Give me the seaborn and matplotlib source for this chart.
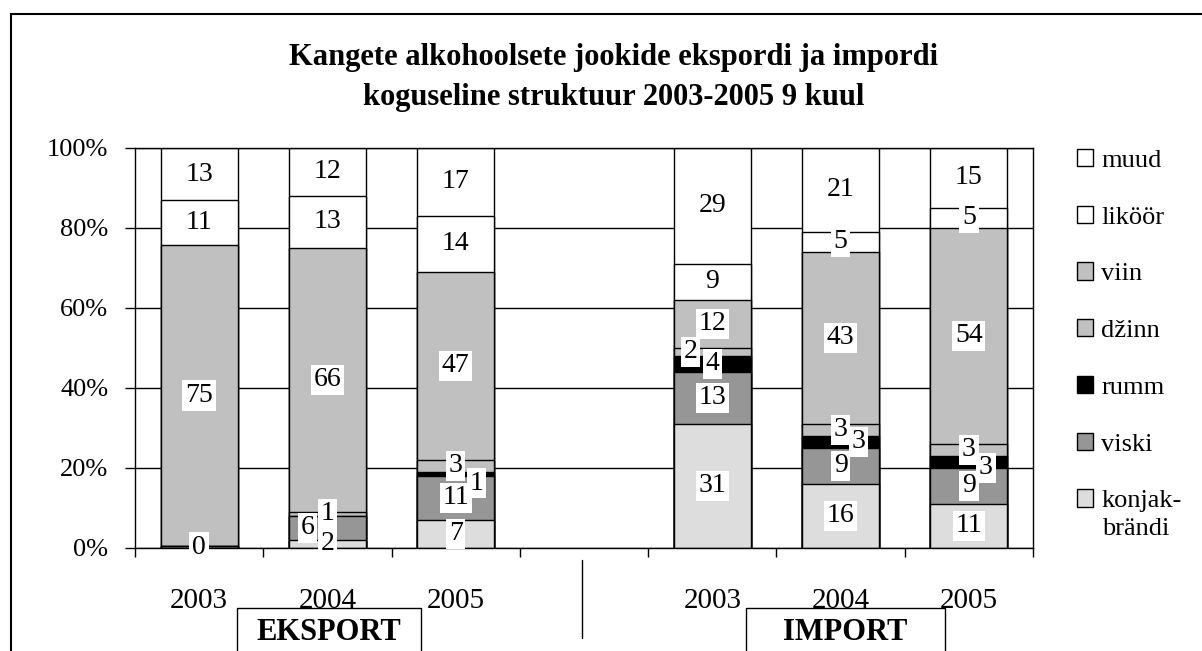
import numpy as np
import pandas as pd
import matplotlib.pyplot as plt
from matplotlib.patches import Patch, Rectangle
from matplotlib.lines import Line2D
import seaborn as sns

# Data (shares in %, bar segments listed from the bottom up)
title_lines = ["Kangete alkohoolsete jookide ekspordi ja impordi",
               "koguseline struktuur 2003-2005 9 kuul"]
years = ["2003", "2004", "2005"]
groups = ["EKSPORT", "IMPORT"]
layers = ["konjakbrändi", "viski", "rumm", "džinn", "viin", "liköör", "muud"]
legend_labels = ["konjak-", "viski", "rumm", "džinn", "viin", "liköör", "muud"]
legend_extra = "brändi"
colors = ["#DDDDDD", "#969696", "#000000", "#C0C0C0", "#C0C0C0", "#FFFFFF", "#FFFFFF"]

export_konjak = [0, 2, 7]
export_viski = [0.45, 6, 11]
export_rumm = [0, 0, 1]
export_dzinn = [0, 1, 3]
export_viin = [75, 66, 47]
export_likoor = [11, 13, 14]
export_muud = [13, 12, 17]

import_konjak = [31, 16, 11]
import_viski = [13, 9, 9]
import_rumm = [4, 3, 3]
import_dzinn = [2, 3, 3]
import_viin = [12, 43, 54]
import_likoor = [9, 5, 5]
import_muud = [29, 21, 15]

# Settings
W, H = 1202, 651
sns.set_theme(style="white")
plt.rcParams['font.family'] = ['Liberation Serif', 'DejaVu Serif']
plt.rcParams['text.color'] = 'black'


def build_frame():
    series = {
        "EKSPORT": [export_konjak, export_viski, export_rumm, export_dzinn,
                    export_viin, export_likoor, export_muud],
        "IMPORT": [import_konjak, import_viski, import_rumm, import_dzinn,
                   import_viin, import_likoor, import_muud],
    }
    rows = []
    for g in groups:
        vals = np.array(series[g], dtype=float)  # layers x years
        for j, y in enumerate(years):
            col = vals[:, j]
            pct = col / col.sum() * 100
            cum = np.cumsum(pct)
            for i, layer in enumerate(layers):
                rows.append({"bar": f"{g} {y}", "layer": layer, "value": col[i],
                             "pct": pct[i], "cum": cum[i]})
    return pd.DataFrame(rows)


def main():
    df = build_frame()
    order = [f"EKSPORT {y}" for y in years] + [" "] + [f"IMPORT {y}" for y in years]

    fig = plt.figure(figsize=(W / 100, H / 100), dpi=100)
    ax = fig.add_axes([135 / W, 1 - 548 / H, (1033 - 135) / W, 400 / H])

    # stacked bars: draw cumulative heights from the top layer down
    for i in reversed(range(len(layers))):
        sub = df[df["layer"] == layers[i]]
        sns.barplot(data=sub, x="bar", y="cum", order=order, color=colors[i],
                    saturation=1, width=0.6, edgecolor="black", linewidth=1.0,
                    errorbar=None, ax=ax, zorder=2)

    # data labels, a few of them nudged sideways as in the original
    nudges = {("EKSPORT 2004", "viski"): (-20, 0),
              ("EKSPORT 2005", "rumm"): (21, -9),
              ("IMPORT 2003", "džinn"): (-22, 0),
              ("IMPORT 2004", "rumm"): (18, 0),
              ("IMPORT 2005", "rumm"): (17, -6)}
    for _, r in df.iterrows():
        if r["value"] <= 0:
            continue
        dx, dy = nudges.get((r["bar"], r["layer"]), (0, 0))
        ax.annotate(f"{r['value']:.0f}", xy=(order.index(r["bar"]), r["cum"] - r["pct"] / 2),
                    xytext=(dx * 0.72, dy * 0.72), textcoords="offset points",
                    ha="center", va="center", fontsize=20, zorder=5,
                    bbox=dict(boxstyle="square,pad=0.1", facecolor="white", edgecolor="none"))

    # axes styling
    ax.set_ylim(0, 100)
    ax.set_xlim(-0.5, len(order) - 0.5)
    ax.set_yticks(range(0, 101, 20))
    ax.set_yticklabels([f"{v}%" for v in range(0, 101, 20)])
    ax.set_xticks(np.arange(-0.5, len(order), 1))
    ax.set_xticklabels([])
    year_pos = [k for k, b in enumerate(order) if b.strip()]
    ax.set_xticks(year_pos, minor=True)
    ax.set_xticklabels([order[k].split()[1] for k in year_pos], minor=True)
    ax.set_xlabel("")
    ax.set_ylabel("")
    ax.yaxis.grid(True, color="black", linewidth=1.0)
    ax.xaxis.grid(False)
    ax.set_axisbelow(True)
    for s in ax.spines.values():
        s.set_visible(True)
        s.set_color("black")
        s.set_linewidth(1.0)
    ax.tick_params(axis="y", which="major", left=True, length=7.2, width=1.0,
                   direction="out", pad=12, labelsize=19, colors="black")
    ax.tick_params(axis="x", which="major", bottom=True, length=6.5, width=1.0,
                   direction="out", colors="black")
    ax.tick_params(axis="x", which="minor", bottom=True, length=0, pad=29,
                   labelsize=21, labelcolor="black")

    # legend (top layer first)
    handles = [Patch(facecolor=colors[i], edgecolor="black", linewidth=1.0)
               for i in reversed(range(len(layers)))]
    labels = [legend_labels[i] for i in reversed(range(len(layers)))]
    ax.legend(handles, labels, loc="upper left", bbox_to_anchor=(1077 / W, 1 - 149 / H),
              bbox_transform=fig.transFigure, frameon=False, fontsize=19,
              handlelength=0.62, handleheight=0.62, handletextpad=0.3,
              labelspacing=1.285, borderpad=0, borderaxespad=0)
    fig.text(1102 / W, 1 - 529 / H, legend_extra, ha="left", va="center", fontsize=19)

    # title
    fig.text(614 / W, 1 - 58 / H, title_lines[0], ha="center", va="center",
             fontsize=22, fontweight="bold")
    fig.text(614 / W, 1 - 98 / H, title_lines[1], ha="center", va="center",
             fontsize=22, fontweight="bold")

    # outer frame, group boxes and separator
    fig.patches.append(Rectangle((11 / W, -0.1), 1.2, (H - 14) / H + 0.1,
                                 transform=fig.transFigure, fill=False,
                                 edgecolor="black", linewidth=1.5))
    for name, x0, x1 in [(groups[0], 237, 421), (groups[1], 746, 945)]:
        fig.patches.append(Rectangle((x0 / W, -0.1), (x1 - x0) / W, (H - 608) / H + 0.1,
                                     transform=fig.transFigure, facecolor="white",
                                     edgecolor="black", linewidth=1.0))
        fig.text((x0 + x1) / 2 / W, 1 - 632 / H, name, ha="center", va="center",
                 fontsize=22, fontweight="bold")
    fig.lines.append(Line2D([582 / W, 582 / W], [1 - 560 / H, 1 - 638 / H],
                            transform=fig.transFigure, color="black", linewidth=1.0))

    fig.savefig("out.png", dpi=100)
    plt.close(fig)


if __name__ == "__main__":
    main()
